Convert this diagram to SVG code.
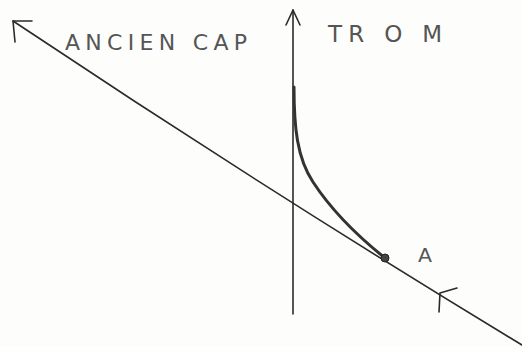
<svg xmlns="http://www.w3.org/2000/svg" width="522" height="347" viewBox="0 0 522 347">
<style>
.ln{stroke:#2a2a2a;stroke-width:1.6;fill:none;stroke-linecap:round;stroke-linejoin:round}
.crv{stroke:#333;stroke-width:3;fill:none;stroke-linecap:round}
.lbl{font-family:"DejaVu Sans",sans-serif;fill:#555;font-weight:normal}
</style>
<rect width="522" height="347" fill="#fdfdfb"/>
<g id="connectors">
<path class="ln" d="M13,21 Q266,190 522,345"/>
<path class="ln" d="M13,21 L32,21 M13,21 L15,42"/>
<path class="ln" d="M293,10 L293,314"/>
<path class="ln" d="M293,10 L286,25 M293,10 L300,25"/>
<path class="ln" d="M440,293 L457,288 M440,293 L439,312"/>
<path class="crv" d="M294,87 C294,127 297,158 313,182 C330,208 355,234 385,258"/>
</g>
<g id="pointA">
<circle cx="385" cy="258" r="4" fill="#444" stroke="#222" stroke-width="1"/>
<text class="lbl" x="418" y="262" font-size="20" textLength="14" lengthAdjust="spacingAndGlyphs">A</text>
</g>
<g id="ancien-cap">
<text class="lbl" x="65" y="50" font-size="22" textLength="182" lengthAdjust="spacing">ANCIEN CAP</text>
</g>
<g id="trom">
<text class="lbl" x="328" y="42" font-size="23" textLength="114" lengthAdjust="spacing">TR O M</text>
</g>
</svg>
